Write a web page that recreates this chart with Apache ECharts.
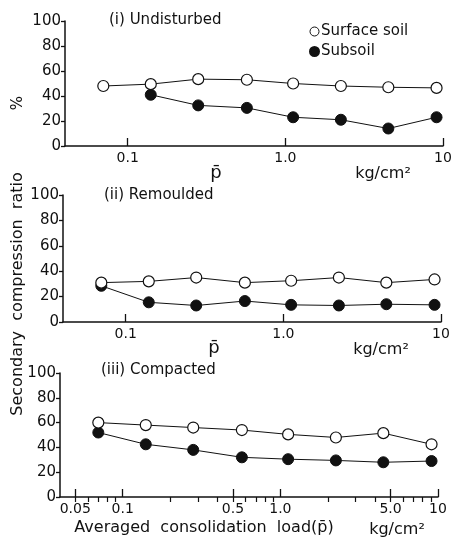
<!DOCTYPE html>
<html>
<head>
<meta charset="utf-8">
<style>
  html, body { margin: 0; padding: 0; background: #fff; }
  #chart { width: 462px; height: 540px; }
</style>
<script src="https://cdn.jsdelivr.net/npm/echarts@6/dist/echarts.min.js"></script>
</head>
<body>
<div id="chart"></div>
<script>
// Averaged consolidation load p̄ (kg/cm²) for each loading step
const loads = [0.07, 0.14, 0.28, 0.57, 1.12, 2.25, 4.5, 9.1];

// Secondary compression ratio (%)
const undisturbedSurface = [48, 49.5, 53.5, 53, 50, 48, 47, 46.5];
const undisturbedSubsoil = [null, 41, 32.5, 30.5, 23, 21, 14, 23];
const remouldedSurface   = [31, 32, 35, 31, 32.5, 35, 31, 33.5];
const remouldedSubsoil   = [28.5, 15.5, 13, 16.5, 13.5, 13, 14, 13.5];
const compactedSurface   = [60, 58, 56, 54, 50.5, 48, 51.5, 42.5];
const compactedSubsoil   = [52, 42.5, 38, 32, 30.5, 29.5, 28, 29];

// Tick positions and labels on the load axes
const majorTicksA = [0.1, 1, 10];
const majorLabelsA = ['0.1', '1.0', '10'];
const majorTicksC = [0.05, 0.1, 0.5, 1, 5, 10];
const majorLabelsC = ['0.05', '0.1', '0.5', '1.0', '5.0', '10'];
const minorTicksC = [0.05, 0.06, 0.07, 0.08, 0.09, 0.2, 0.3, 0.4, 0.5, 0.6, 0.7, 0.8, 0.9,
                     2, 3, 4, 5, 6, 7, 8, 9];

const panelTitles = ['(i) Undisturbed', '(ii) Remoulded', '(iii) Compacted'];
const seriesNames = ['Surface soil', 'Subsoil'];

const FONT = 'DejaVu Sans';
const INK = '#111';

function pairs(vals) {
  const out = [];
  vals.forEach((v, i) => { if (v !== null) out.push([loads[i], v]); });
  return out;
}

const grids = [
  { left: 65, top: 21, width: 378, height: 125 },
  { left: 63, top: 195, width: 378, height: 127 },
  { left: 60, top: 373, width: 378, height: 124 }
];

function majorAxis(gridIndex, ticks, labels) {
  const lookup = {};
  ticks.forEach((t, i) => { lookup[t] = labels[i]; });
  return {
    type: 'log', logBase: 10, gridIndex, min: 0.04, max: 10,
    axisLine: { show: true, onZero: false, lineStyle: { color: INK, width: 1.5 } },
    axisTick: { show: true, inside: true, length: 8, customValues: ticks,
                lineStyle: { color: INK, width: 1.3 } },
    axisLabel: { show: true, customValues: ticks, margin: 5,
                 fontFamily: FONT, fontSize: 14, color: INK,
                 formatter: v => {
                   for (const t of ticks) { if (Math.abs(t - v) < 1e-9 * Math.max(1, t)) return lookup[t]; }
                   return '';
                 } },
    splitLine: { show: false }
  };
}

function minorAxis(gridIndex, ticks) {
  return {
    type: 'log', logBase: 10, gridIndex, min: 0.04, max: 10,
    axisLine: { show: false },
    axisTick: { show: true, inside: true, length: 5, customValues: ticks,
                lineStyle: { color: INK, width: 1.2 } },
    axisLabel: { show: false },
    splitLine: { show: false }
  };
}

function yAxis(gridIndex) {
  return {
    type: 'value', gridIndex, min: 0, max: 100, interval: 20,
    axisLine: { show: true, lineStyle: { color: INK, width: 1.5 } },
    axisTick: { show: true, length: 4, lineStyle: { color: INK, width: 1.3 } },
    axisLabel: { margin: 4, fontFamily: FONT, fontSize: 15, color: INK },
    splitLine: { show: false }
  };
}

function lineSeries(name, xAxisIndex, yAxisIndex, data, filled) {
  return {
    name, type: 'line', xAxisIndex, yAxisIndex, data: pairs(data),
    symbol: 'circle', symbolSize: 11, showSymbol: true,
    lineStyle: { color: INK, width: 1 },
    itemStyle: filled ? { color: INK, borderColor: INK, borderWidth: 1 }
                      : { color: '#fff', borderColor: INK, borderWidth: 1.2 },
    z: filled ? 2 : 3,
    animation: false
  };
}

const option = {
  backgroundColor: '#fff',
  animation: false,
  grid: grids,
  title: [
    { text: panelTitles[0], left: 104, top: 8 },
    { text: panelTitles[1], left: 99, top: 183 },
    { text: panelTitles[2], left: 96, top: 358 }
  ].map(t => Object.assign(t, { textStyle: { fontFamily: FONT, fontSize: 15, fontWeight: 'normal', color: INK } })),
  legend: {
    orient: 'vertical', left: 304, top: 19, itemGap: 5,
    itemWidth: 9, itemHeight: 9, icon: 'circle',
    data: [
      { name: seriesNames[0], itemStyle: { color: '#fff', borderColor: INK, borderWidth: 1 } },
      { name: seriesNames[1], itemStyle: { color: INK } }
    ],
    textStyle: { fontFamily: FONT, fontSize: 15, color: INK, padding: [0, 0, 0, -3] },
    selectedMode: false
  },
  xAxis: [
    majorAxis(0, majorTicksA, majorLabelsA),
    majorAxis(1, majorTicksA, majorLabelsA),
    majorAxis(2, majorTicksC, majorLabelsC),
    minorAxis(2, minorTicksC)
  ],
  yAxis: [yAxis(0), yAxis(1), yAxis(2)],
  series: [
    lineSeries(seriesNames[1], 0, 0, undisturbedSubsoil, true),
    lineSeries(seriesNames[0], 0, 0, undisturbedSurface, false),
    lineSeries(seriesNames[1], 1, 1, remouldedSubsoil, true),
    lineSeries(seriesNames[0], 1, 1, remouldedSurface, false),
    lineSeries(seriesNames[1], 2, 2, compactedSubsoil, true),
    lineSeries(seriesNames[0], 2, 2, compactedSurface, false)
  ],
  graphic: [
    { type: 'text', x: 18, y: 294, rotation: Math.PI / 2,
      style: { text: 'Secondary  compression  ratio', fontFamily: FONT, fontSize: 16,
               fill: INK, align: 'center', verticalAlign: 'middle' } },
    { type: 'text', x: 18, y: 103, rotation: Math.PI / 2,
      style: { text: '%', fontFamily: FONT, fontSize: 15,
               fill: INK, align: 'center', verticalAlign: 'middle' } },
    { type: 'text', x: 216, y: 173,
      style: { text: 'p\u0304', fontFamily: FONT, fontSize: 18,
               fill: INK, align: 'center', verticalAlign: 'middle' } },
    { type: 'text', x: 383, y: 174,
      style: { text: 'kg/cm\u00B2', fontFamily: FONT, fontSize: 16,
               fill: INK, align: 'center', verticalAlign: 'middle' } },
    { type: 'text', x: 214, y: 348,
      style: { text: 'p\u0304', fontFamily: FONT, fontSize: 18,
               fill: INK, align: 'center', verticalAlign: 'middle' } },
    { type: 'text', x: 381, y: 350,
      style: { text: 'kg/cm\u00B2', fontFamily: FONT, fontSize: 16,
               fill: INK, align: 'center', verticalAlign: 'middle' } },
    { type: 'text', x: 204, y: 528,
      style: { text: 'Averaged  consolidation  load(p\u0304)', fontFamily: FONT, fontSize: 16,
               fill: INK, align: 'center', verticalAlign: 'middle' } },
    { type: 'text', x: 397, y: 530,
      style: { text: 'kg/cm\u00B2', fontFamily: FONT, fontSize: 16,
               fill: INK, align: 'center', verticalAlign: 'middle' } }
  ]
};

const chart = echarts.init(document.getElementById('chart'), null, { renderer: 'canvas' });
chart.setOption(option);
</script>
</body>
</html>
